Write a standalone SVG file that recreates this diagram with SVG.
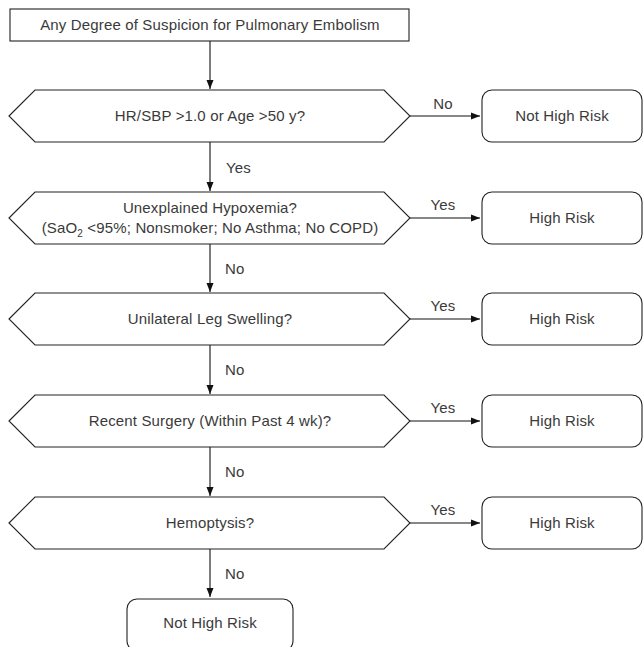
<svg xmlns="http://www.w3.org/2000/svg" width="644" height="647" viewBox="0 0 644 647">
<defs>
<marker id="ah" markerWidth="10" markerHeight="8" refX="9" refY="4" orient="auto" markerUnits="userSpaceOnUse">
<path d="M0,0.5 L9,4 L0,7.5 Z" fill="#111"/>
</marker>
<style>
.shape{fill:#fff;stroke:#222;stroke-width:1.1}
.t{font-family:"Liberation Sans",Arial,Helvetica,sans-serif;font-size:15px;letter-spacing:0.15px;fill:#3a3a3a;text-anchor:middle}
.l{font-family:"Liberation Sans",Arial,Helvetica,sans-serif;font-size:15px;letter-spacing:0.15px;fill:#3a3a3a}
.c{stroke:#111;stroke-width:1.1;fill:none;marker-end:url(#ah)}
</style>
</defs>
<rect width="644" height="647" fill="#fff"/>
<g id="connectors">
<line class="c" x1="210" y1="41" x2="210" y2="89"/>
<line class="c" x1="210" y1="142" x2="210" y2="191"/>
<line class="c" x1="210" y1="244" x2="210" y2="292"/>
<line class="c" x1="210" y1="345" x2="210" y2="394"/>
<line class="c" x1="210" y1="447" x2="210" y2="496"/>
<line class="c" x1="210" y1="549" x2="210" y2="597"/>
<line class="c" x1="410" y1="116" x2="480" y2="116"/>
<line class="c" x1="410" y1="218" x2="480" y2="218"/>
<line class="c" x1="410" y1="319" x2="480" y2="319"/>
<line class="c" x1="410" y1="421" x2="480" y2="421"/>
<line class="c" x1="410" y1="523" x2="480" y2="523"/>
<text class="l" x="226" y="173">Yes</text>
<text class="l" x="225" y="274">No</text>
<text class="l" x="225" y="375">No</text>
<text class="l" x="225" y="477">No</text>
<text class="l" x="225" y="579">No</text>
<text class="t" x="443" y="109">No</text>
<text class="t" x="443" y="210">Yes</text>
<text class="t" x="443" y="311">Yes</text>
<text class="t" x="443" y="413">Yes</text>
<text class="t" x="443" y="515">Yes</text>
</g>
<g id="start">
<rect class="shape" x="10" y="9" width="399" height="32"/>
<text class="t" x="210" y="30">Any Degree of Suspicion for Pulmonary Embolism</text>
</g>
<g id="q1">
<polygon class="shape" points="9,116 35,90 384,90 410,116 384,142 35,142"/>
<text class="t" x="210" y="121">HR/SBP &gt;1.0 or Age &gt;50 y?</text>
</g>
<g id="r1">
<rect class="shape" x="482" y="90" width="160" height="52" rx="10"/>
<text class="t" x="562" y="121">Not High Risk</text>
</g>
<g id="q2">
<polygon class="shape" points="9,218 35,192 384,192 410,218 384,244 35,244"/>
<text class="t" x="210" y="213">Unexplained Hypoxemia?</text>
<text class="t" x="210" y="233">(SaO<tspan font-size="10" dy="4">2</tspan><tspan dy="-4"> &lt;95%; Nonsmoker; No Asthma; No COPD)</tspan></text>
</g>
<g id="r2">
<rect class="shape" x="482" y="192" width="160" height="52" rx="10"/>
<text class="t" x="562" y="223">High Risk</text>
</g>
<g id="q3">
<polygon class="shape" points="9,319 35,293 384,293 410,319 384,345 35,345"/>
<text class="t" x="210" y="324">Unilateral Leg Swelling?</text>
</g>
<g id="r3">
<rect class="shape" x="482" y="293" width="160" height="52" rx="10"/>
<text class="t" x="562" y="324">High Risk</text>
</g>
<g id="q4">
<polygon class="shape" points="9,421 35,395 384,395 410,421 384,447 35,447"/>
<text class="t" x="210" y="426">Recent Surgery (Within Past 4 wk)?</text>
</g>
<g id="r4">
<rect class="shape" x="482" y="395" width="160" height="52" rx="10"/>
<text class="t" x="562" y="426">High Risk</text>
</g>
<g id="q5">
<polygon class="shape" points="9,523 35,497 384,497 410,523 384,549 35,549"/>
<text class="t" x="210" y="528">Hemoptysis?</text>
</g>
<g id="r5">
<rect class="shape" x="482" y="497" width="160" height="52" rx="10"/>
<text class="t" x="562" y="528">High Risk</text>
</g>
<g id="end">
<rect class="shape" x="127" y="599" width="166" height="52" rx="10"/>
<text class="t" x="210" y="628">Not High Risk</text>
</g>
</svg>
